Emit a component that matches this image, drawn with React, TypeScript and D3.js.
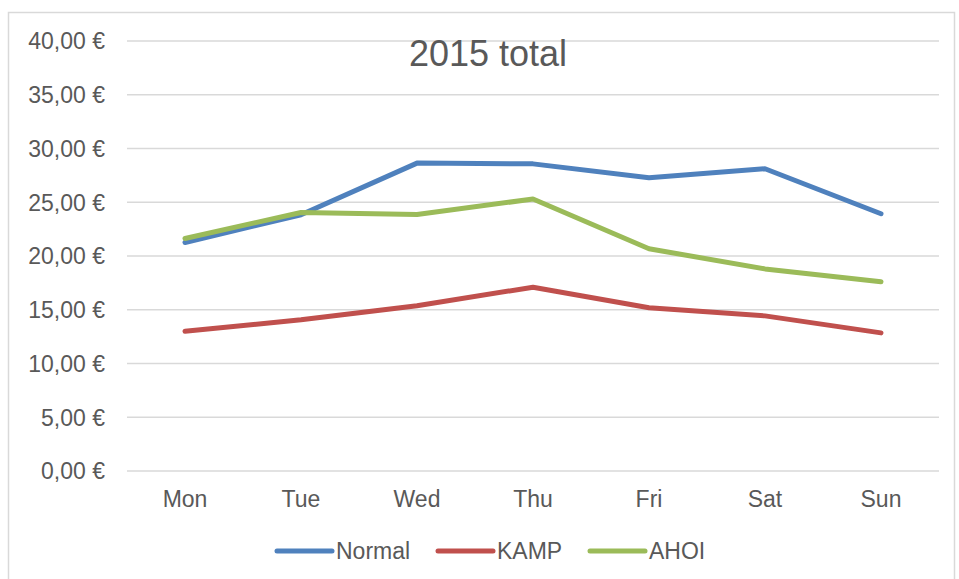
import React, { useEffect, useRef } from "react";
import * as d3 from "d3";

const days = ["Mon", "Tue", "Wed", "Thu", "Fri", "Sat", "Sun"];
const normal = [21.26, 23.84, 28.64, 28.57, 27.28, 28.12, 23.93];
const kamp = [13.01, 14.06, 15.38, 17.1, 15.18, 14.43, 12.85];
const ahoi = [21.63, 24.05, 23.86, 25.3, 20.67, 18.8, 17.6];
const yTicks = [0, 5, 10, 15, 20, 25, 30, 35, 40];

const seriesNames = ["Normal", "KAMP", "AHOI"];
const seriesColors = ["#4F81BD", "#C0504D", "#9BBB59"];

const App = () => {
  const svgRef = useRef<SVGSVGElement>(null);

  useEffect(() => {
    const svg = d3.select(svgRef.current);
    svg.selectAll("*").remove();

    const width = 959;
    const height = 579;
    const margin = { top: 41, right: 20, bottom: 108, left: 127 };
    const font = "'Liberation Sans', Arial, sans-serif";
    const textColor = "#595959";

    // chart frame
    svg.append("rect")
      .attr("x", 8.5)
      .attr("y", 12.5)
      .attr("width", 946)
      .attr("height", 620)
      .attr("fill", "white")
      .attr("stroke", "#d9d9d9")
      .attr("stroke-width", 1.5);

    const x = d3.scalePoint<string>()
      .domain(days)
      .range([margin.left, width - margin.right])
      .padding(0.5);

    const y = d3.scaleLinear()
      .domain([0, 40])
      .range([height - margin.bottom, margin.top]);

    // grid
    svg.selectAll("line.grid")
      .data(yTicks)
      .enter()
      .append("line")
      .attr("x1", margin.left)
      .attr("x2", width - margin.right)
      .attr("y1", d => y(d))
      .attr("y2", d => y(d))
      .attr("stroke", "#d9d9d9")
      .attr("stroke-width", 1.3);

    // y labels
    svg.selectAll("text.ylab")
      .data(yTicks)
      .enter()
      .append("text")
      .attr("x", 105)
      .attr("y", d => y(d))
      .attr("dy", "0.36em")
      .attr("text-anchor", "end")
      .attr("fill", textColor)
      .style("font-family", font)
      .style("font-size", "23px")
      .text(d => d3.format(".2f")(d).replace(".", ",") + " €");

    // x labels
    svg.selectAll("text.xlab")
      .data(days)
      .enter()
      .append("text")
      .attr("x", d => x(d) as number)
      .attr("y", 507)
      .attr("text-anchor", "middle")
      .attr("fill", textColor)
      .style("font-family", font)
      .style("font-size", "23px")
      .text(d => d);

    // title
    svg.append("text")
      .attr("x", 488)
      .attr("y", 66)
      .attr("text-anchor", "middle")
      .attr("fill", textColor)
      .style("font-family", font)
      .style("font-size", "36px")
      .text("2015 total");

    const line = d3.line<number>()
      .x((_, i) => x(days[i]) as number)
      .y(d => y(d));

    [normal, kamp, ahoi].forEach((vals, i) => {
      svg.append("path")
        .datum(vals)
        .attr("d", line)
        .attr("fill", "none")
        .attr("stroke", seriesColors[i])
        .attr("stroke-width", 5)
        .attr("stroke-linejoin", "round")
        .attr("stroke-linecap", "round");
    });

    // legend
    const legendX = [277, 438, 590];
    seriesNames.forEach((name, i) => {
      const g = svg.append("g").attr("transform", `translate(${legendX[i]},551)`);
      g.append("line")
        .attr("x1", 0)
        .attr("x2", 55)
        .attr("stroke", seriesColors[i])
        .attr("stroke-width", 5)
        .attr("stroke-linecap", "round");
      g.append("text")
        .attr("x", 59)
        .attr("y", 8)
        .attr("fill", textColor)
        .style("font-family", font)
        .style("font-size", "23px")
        .text(name);
    });
  }, []);

  return (
    <svg
      ref={svgRef}
      width={959}
      height={579}
      style={{ position: "absolute", left: 0, top: 0, background: "white" }}
    />
  );
};

export default App;
